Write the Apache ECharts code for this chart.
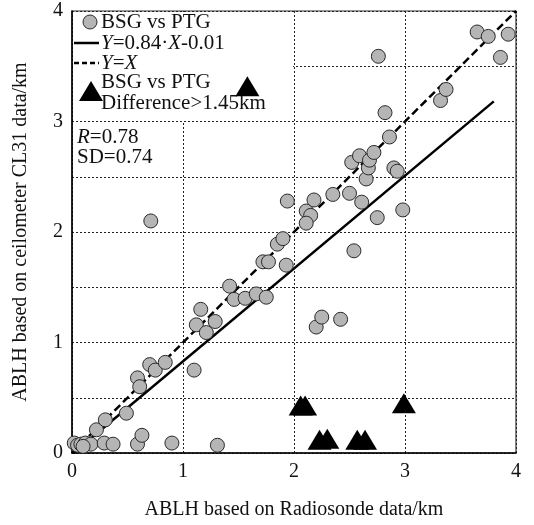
<!DOCTYPE html>
<html>
<head>
<meta charset="utf-8">
<script src="https://cdn.jsdelivr.net/npm/echarts@6/dist/echarts.min.js"></script>
<style>
  html, body { margin: 0; padding: 0; background: #fff; }
  #chart { width: 534px; height: 525px; }
</style>
</head>
<body>
<div id="chart"></div>
<script>
// BSG vs PTG points (radiosonde, ceilometer), km
const bsgX = [0.02, 0.05, 0.08, 0.12, 0.17, 0.10, 0.22, 0.29, 0.30, 0.37, 0.49, 0.59, 0.63, 0.90, 1.31,
  0.59, 0.61, 0.70, 0.75, 0.84, 1.10, 0.71,
  1.12, 1.16, 1.21, 1.29, 1.42, 1.46, 1.56, 1.66, 1.75, 1.72, 1.77, 1.85, 1.90, 1.93,
  1.94, 2.11, 2.15, 2.11, 2.18, 2.35, 2.50, 2.61, 2.75, 2.98, 2.54,
  2.20, 2.25, 2.42,
  2.52, 2.59, 2.65, 2.67, 2.68, 2.72, 2.86, 2.90, 2.93, 2.82, 2.76,
  3.32, 3.37, 3.65, 3.75, 3.93, 3.86];
const bsgY = [0.09, 0.07, 0.08, 0.09, 0.08, 0.06, 0.21, 0.09, 0.30, 0.08, 0.36, 0.08, 0.16, 0.09, 0.07,
  0.68, 0.60, 0.80, 0.75, 0.82, 0.75, 2.10,
  1.16, 1.30, 1.09, 1.19, 1.51, 1.39, 1.40, 1.44, 1.41, 1.73, 1.73, 1.89, 1.94, 1.70,
  2.28, 2.19, 2.15, 2.08, 2.29, 2.34, 2.35, 2.27, 2.13, 2.20, 1.83,
  1.14, 1.23, 1.21,
  2.63, 2.69, 2.48, 2.58, 2.65, 2.72, 2.86, 2.58, 2.55, 3.08, 3.59,
  3.19, 3.29, 3.81, 3.77, 3.79, 3.58];
// BSG vs PTG with difference > 1.45 km
const diffX = [2.06, 2.10, 2.99, 2.23, 2.30, 2.57, 2.64, 1.58];
const diffY = [0.43, 0.43, 0.45, 0.12, 0.13, 0.12, 0.12, 3.32];
// fit Y = 0.84*X - 0.01
const fitSlope = 0.84;
const fitIntercept = -0.01;
const fitX = [0.01, 3.8];
const oneToOne = [0, 4];

const chart = echarts.init(document.getElementById('chart'));
const serif = 'Liberation Serif';

const option = {
  animation: false,
  backgroundColor: '#fff',
  grid: { left: 72, top: 11, width: 444, height: 444, show: true, borderColor: '#333', borderWidth: 1.2 },
  xAxis: {
    type: 'value', min: 0, max: 4, interval: 1,
    name: 'ABLH based on Radiosonde data/km', nameLocation: 'middle', nameGap: 47,
    nameTextStyle: { fontFamily: serif, fontSize: 20, color: '#111' },
    axisLine: { show: true, onZero: false, lineStyle: { color: '#000', width: 1.5 } },
    axisTick: { show: false },
    axisLabel: { fontFamily: serif, fontSize: 20, color: '#111', margin: 9 },
    splitLine: { show: true, lineStyle: { color: '#222', type: [2, 2], width: 1 } }
  },
  yAxis: {
    type: 'value', min: 0, max: 4, interval: 0.5,
    name: 'ABLH based on ceilometer CL31 data/km', nameLocation: 'middle', nameGap: 41,
    nameTextStyle: { fontFamily: serif, fontSize: 20, color: '#111' },
    axisLine: { show: true, onZero: false, lineStyle: { color: '#000', width: 1.5 } },
    axisTick: { show: false },
    axisLabel: { fontFamily: serif, fontSize: 20, color: '#111', margin: 9,
      formatter: v => (Number.isInteger(v) ? String(v) : '') },
    splitLine: { show: true, lineStyle: { color: '#222', type: [2, 2], width: 1 } }
  },
  series: [
    {
      type: 'line', z: 4, symbol: 'none', silent: true,
      data: oneToOne.map(v => [v, v]),
      lineStyle: { color: '#000', width: 2.5, type: [8, 4] }
    },
    {
      type: 'line', z: 4, symbol: 'none', silent: true,
      data: fitX.map(x => [x, fitSlope * x + fitIntercept]),
      lineStyle: { color: '#000', width: 2.5 }
    },
    {
      type: 'scatter', z: 5, symbol: 'circle', symbolSize: 14,
      data: bsgX.map((x, i) => [x, bsgY[i]]),
      itemStyle: { color: '#b5b5b5', borderColor: '#2a2a2a', borderWidth: 1, opacity: 1 }
    },
    {
      type: 'scatter', z: 6, symbol: 'triangle', symbolSize: [24, 20],
      data: diffX.map((x, i) => [x, diffY[i]]),
      itemStyle: { color: '#000', opacity: 1 }
    }
  ],
  graphic: [
    { type: 'rect', z: 2, shape: { x: 73, y: 12, width: 220, height: 109 }, style: { fill: '#fff' } },
    { type: 'circle', z: 3, shape: { cx: 90, cy: 22, r: 7 }, style: { fill: '#b5b5b5', stroke: '#2a2a2a', lineWidth: 1 } },
    { type: 'text', z: 3, x: 101, y: 22, style: { text: 'BSG vs PTG', font: '21px "Liberation Serif"', fill: '#111', verticalAlign: 'middle' } },
    { type: 'line', z: 3, shape: { x1: 74, y1: 43, x2: 99, y2: 43 }, style: { stroke: '#000', lineWidth: 2.5 } },
    { type: 'text', z: 3, x: 101, y: 43, style: {
      text: '{i|Y}=0.84·{i|X}-0.01', font: '21px "Liberation Serif"', fill: '#111', verticalAlign: 'middle',
      rich: { i: { fontStyle: 'italic', fontFamily: serif, fontSize: 21, fill: '#111' } } } },
    { type: 'line', z: 3, shape: { x1: 74, y1: 63, x2: 99, y2: 63 }, style: { stroke: '#000', lineWidth: 2.5, lineDash: [5, 3] } },
    { type: 'text', z: 3, x: 101, y: 63, style: {
      text: '{i|Y}={i|X}', font: '21px "Liberation Serif"', fill: '#111', verticalAlign: 'middle',
      rich: { i: { fontStyle: 'italic', fontFamily: serif, fontSize: 21, fill: '#111' } } } },
    { type: 'polygon', z: 3, shape: { points: [[91, 81], [79, 101], [103, 101]] }, style: { fill: '#000' } },
    { type: 'text', z: 3, x: 101, y: 82, style: { text: 'BSG vs PTG', font: '21px "Liberation Serif"', fill: '#111', verticalAlign: 'middle' } },
    { type: 'text', z: 3, x: 101, y: 103, style: { text: 'Difference>1.45km', font: '21px "Liberation Serif"', fill: '#111', verticalAlign: 'middle' } },
    { type: 'text', z: 3, x: 77, y: 137, style: {
      text: '{i|R}=0.78', font: '21px "Liberation Serif"', fill: '#111', verticalAlign: 'middle',
      rich: { i: { fontStyle: 'italic', fontFamily: serif, fontSize: 21, fill: '#111' } } } },
    { type: 'text', z: 3, x: 77, y: 157, style: { text: 'SD=0.74', font: '21px "Liberation Serif"', fill: '#111', verticalAlign: 'middle' } }
  ]
};

chart.setOption(option);
</script>
</body>
</html>
